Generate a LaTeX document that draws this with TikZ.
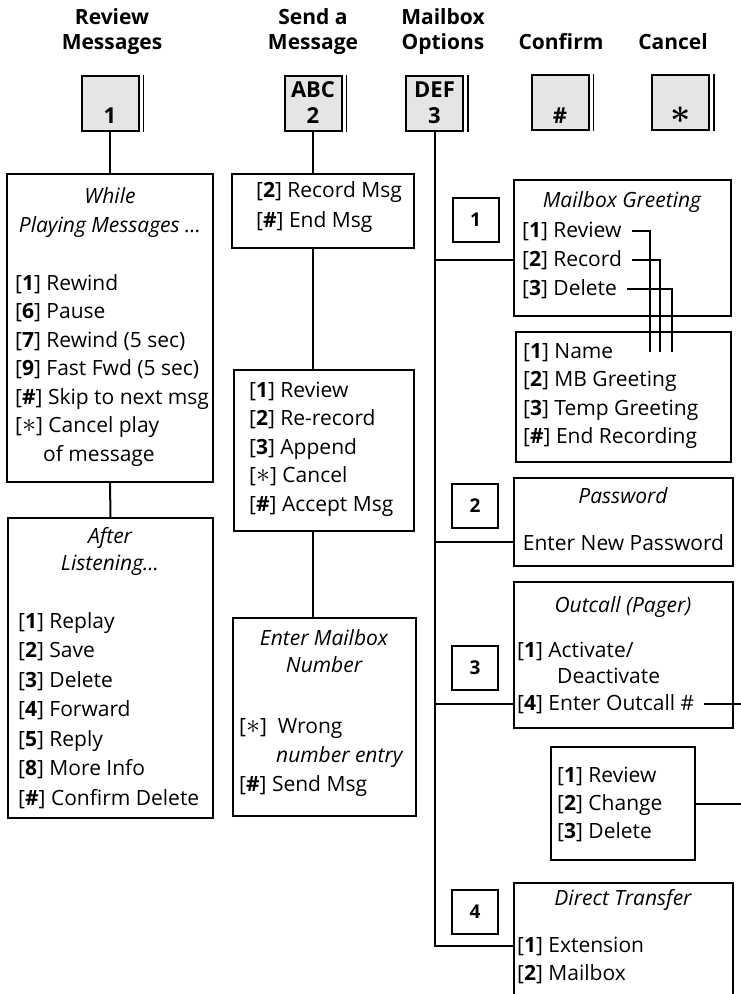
\documentclass[tikz,border=0pt]{standalone}
\usepackage{fontspec}
\setmainfont{Open Sans}
\usetikzlibrary{calc,fit}
\newcommand{\kb}[1]{[\textbf{#1}]}
\newcommand{\ks}{[\smash{\scalebox{1.35}{$\ast$}}]}
\newcommand{\rows}[6][28.5]{\foreach \t [count=\i from 0] in {#6}{\node[#2] (#3\i) at (#4,{#5+\i*#1}) {\t};}}
\tikzset{
  panel/.style={draw, line width=2pt, inner sep=0pt},
  keycap/.style={draw, line width=2pt, fill=black!10, minimum width=57pt, minimum height=55pt,
    inner sep=0pt, align=center, font=\fontsize{22}{26}\selectfont\bfseries},
  numbox/.style={draw, line width=2pt, minimum width=46pt, minimum height=44pt,
    inner sep=0pt, font=\fontsize{19}{22}\selectfont\bfseries},
  heading/.style={anchor=base, inner sep=0pt, font=\fontsize{21}{25}\selectfont\bfseries},
  item/.style={anchor=base west, inner sep=0pt, font=\fontsize{21}{25}\selectfont},
  ttl/.style={anchor=base, inner sep=0pt, font=\fontsize{21}{25}\selectfont\itshape},
  wire/.style={line width=2pt},
}
\begin{document}
\begin{tikzpicture}[x=1pt,y=-1pt]
		%%%%% START %%%%%
		\useasboundingbox (0,0) rectangle (741,994);
		\coordinate (rt) at (741,0);
		
		% headings
		\node[heading] (h1a) at (112,24) {Review};
		\node[heading] (h1b) at (112,49) {Messages};
		\node[heading] (h2a) at (313,24) {Send a};
		\node[heading] (h2b) at (313,49) {Message};
		\node[heading] (h3a) at (443,24) {Mailbox};
		\node[heading] (h3b) at (443,49) {Options};
		\node[heading] (h4) at (561,49) {Confirm};
		\node[heading] (h5) at (673,49) {Cancel};
		
		% keys
		\node[keycap] (k1) at (110,103) {\vphantom{A}\\1};
		\node[keycap] (k2) at (313,103) {ABC\\2};
		\node[keycap] (k3) at (434.5,103) {DEF\\3};
		\node[keycap] (kh) at (560,102.5) {\vphantom{A}\\\#};
		\node[keycap] (ks) at (680.5,102.5) {\vphantom{A}\\\scalebox{1.7}{\boldmath$\ast$}};
		\foreach \k in {k1,k2,k3,kh,ks}
			\draw[line width=1.2pt] ([xshift=4pt]\k.north east) -- ([xshift=4pt]\k.south east);
		
		% review messages
		\node[panel, fit={(7,174) (213,482)}] (wpm) {};
		\node[ttl] (wpt0) at (110,203) {While};
		\node[ttl] (wpt1) at (110,232) {Playing Messages ...};
		\rows{item}{wp}{15}{290}{{\kb{1} Rewind}, {\kb{6} Pause}, {\kb{7} Rewind (5 sec)},
			{\kb{9} Fast Fwd (5 sec)}, {\kb{\#} Skip to next msg}, {\ks{} Cancel play},
			{\hspace*{28pt}of message}}
		
		\node[panel, fit={(8,518) (213,818)}] (aft) {};
		\node[ttl] (aft0) at (110,543) {After};
		\node[ttl] (aft1) at (110,570) {Listening...};
		\rows[29.5]{item}{al}{18}{628}{{\kb{1} Replay}, {\kb{2} Save}, {\kb{3} Delete},
			{\kb{4} Forward}, {\kb{5} Reply}, {\kb{8} More Info}, {\kb{\#} Confirm Delete}}
		
		\draw[wire] (k1.south) -- (wpm.north);
		\draw[wire] (wpm.south) -- (aft.north);
		
		% send a message
		\node[panel, fit={(232,174) (414,248)}] (rec) {};
		\rows[30]{item}{rc}{256}{197}{{\kb{2} Record Msg}, {\kb{\#} End Msg}}
		
		\node[panel, fit={(234,370) (414,531)}] (rev) {};
		\rows{item}{rv}{249}{397}{{\kb{1} Review}, {\kb{2} Re-record}, {\kb{3} Append},
			{\ks{} Cancel}, {\kb{\#} Accept Msg}}
		
		\node[panel, fit={(233,618) (416,816)}] (ent) {};
		\node[ttl] (ent0) at (324,645) {Enter Mailbox};
		\node[ttl] (ent1) at (324,672) {Number};
		\rows[29]{item}{en}{239}{733}{{\ks~ Wrong}, {\hspace*{37pt}\textit{number entry}},
			{\kb{\#} Send Msg}}
		
		\draw[wire] (k2.south) -- (k2.south |- rec.north);
		\draw[wire] (k2.south |- rec.south) -- (k2.south |- rev.north);
		\draw[wire] (k2.south |- rev.south) -- (k2.south |- ent.north);
		
		% mailbox options
		\node[numbox] (n1) at (475.5,220) {1};
		\node[panel, fit={(514,180) (731,316)}] (mg) {};
		\node[ttl] (mgt) at (622,207) {Mailbox Greeting};
		\rows[29]{item}{mg}{522}{237}{{\kb{1} Review}, {\kb{2} Record}, {\kb{3} Delete}}
		
		\node[panel, fit={(516,332) (731,462)}] (nm) {};
		\rows{item}{nm}{523}{358}{{\kb{1} Name}, {\kb{2} MB Greeting}, {\kb{3} Temp Greeting},
			{\kb{\#} End Recording}}
		
		\coordinate (d1) at (650,352);
		\coordinate (d2) at (660,352);
		\coordinate (d3) at (672,352);
		\draw[wire] ([xshift=10pt]mg0.east) -| (d1);
		\draw[wire] ([xshift=10pt]mg1.east) -| (d2);
		\draw[wire] ([xshift=10pt]mg2.east) -| (d3);
		
		\node[numbox] (n2) at (475,505.5) {2};
		\node[panel, fit={(514,478) (733,566)}] (pw) {};
		\node[ttl] (pwt) at (623,503) {Password};
		\node[item, anchor=base] (pwl) at (623.5,550) {Enter New Password};
		
		\node[numbox] (n3) at (475,668) {3};
		\node[panel, fit={(514,582) (733,728)}] (oc) {};
		\node[ttl] (oct) at (623,612) {Outcall (Pager)};
		\rows[26.5]{item}{oc}{517}{657}{{\kb{1} Activate/}, {\hspace*{40pt}Deactivate},
			{\kb{4} Enter Outcall \#}}
		
		\node[panel, fit={(551,747) (695,860)}] (chg) {};
		\rows[28]{item}{cg}{557}{782}{{\kb{1} Review}, {\kb{2} Change}, {\kb{3} Delete}}
		
		\node[numbox] (n4) at (475,911.5) {4};
		\node[panel, fit={(514,883) (733,1010)}] (dt) {};
		\node[ttl] (dtt) at (623,905) {Direct Transfer};
		\rows[28]{item}{dt}{517}{952}{{\kb{1} Extension}, {\kb{2} Mailbox}}
		
		\draw[wire] (k3.south) -- (k3.south |- dt0) -- (dt.west |- dt0);
		\draw[wire] (k3.south |- mg1) -- (mg.west |- mg1);
		\draw[wire] (k3.south |- pwl) -- (pw.west |- pwl);
		\draw[wire] (k3.south |- oc2) -- (oc.west |- oc2);
		\draw[wire] ([xshift=10pt]oc2.east) -- (oc2 -| rt);
		\draw[wire] (chg.east) -- (chg.east -| rt);
		%%%%% END %%%%%
\end{tikzpicture}
\end{document}
